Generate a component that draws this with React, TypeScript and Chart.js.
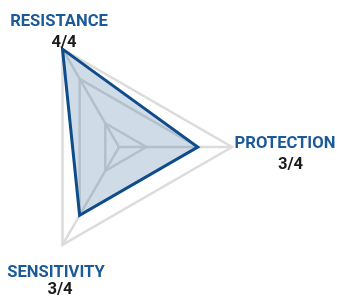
import { useEffect, useRef } from 'react';
import { Chart, registerables } from 'chart.js';

Chart.register(...registerables);

const categories = ['RESISTANCE', 'PROTECTION', 'SENSITIVITY'];
const scores = [4, 3, 3];
const maxScore = 4;
const scaleMin = 0.7;
const ringValues = [1.5, 3, 4];
const scoreLabels = scores.map((v) => `${v}/${maxScore}`);

// [nameDx, nameDy, scoreDx, scoreDy] relative to each axis end point
const LABEL_OFFSETS = [
  [-3.5, -23, 1.5, -2],
  [53, 1, 58.5, 22],
  [-6.5, 32, -2.5, 49],
];

const labelPlugin = {
  id: 'twoLineLabels',
  afterDraw(chart: any) {
    const scale = chart.scales.r;
    const ctx = chart.ctx as CanvasRenderingContext2D;
    ctx.save();
    ctx.textAlign = 'center';
    ctx.textBaseline = 'alphabetic';
    ctx.font = 'bold 16.6px Roboto';
    categories.forEach((name, i) => {
      const p = scale.getPointPosition(i, scale.drawingArea);
      const o = LABEL_OFFSETS[i];
      ctx.fillStyle = '#1b5a98';
      ctx.fillText(name, p.x + o[0], p.y + o[1]);
      ctx.fillStyle = '#1a1a1a';
      ctx.fillText(scoreLabels[i], p.x + o[2], p.y + o[3]);
    });
    ctx.restore();
  },
};

export default function App() {
  const ref = useRef<HTMLCanvasElement | null>(null);

  useEffect(() => {
    document.body.style.margin = '0';
    if (!ref.current) return;
    const chart = new Chart(ref.current, {
      type: 'radar',
      data: {
        labels: categories,
        datasets: [
          {
            data: scores,
            borderColor: '#0f4c8a',
            backgroundColor: 'rgba(16,78,139,0.2)',
            borderWidth: 3,
            pointRadius: 0,
            pointHoverRadius: 0,
            fill: true,
          },
        ],
      },
      options: {
        responsive: false,
        animation: false,
        layout: { padding: { left: 6, top: 34, right: 105, bottom: 38 } },
        plugins: { legend: { display: false }, tooltip: { enabled: false } },
        scales: {
          r: {
            min: scaleMin,
            max: maxScore,
            startAngle: -30,
            afterBuildTicks: (s: any) => {
              s.ticks = [scaleMin, ...ringValues].map((v) => ({ value: v }));
            },
            ticks: { display: false },
            pointLabels: { display: false },
            grid: { color: '#dcdcdc', lineWidth: 2.5 },
            angleLines: { color: '#dcdcdc', lineWidth: 2.5 },
          },
        },
      },
      plugins: [labelPlugin],
    });
    return () => chart.destroy();
  }, []);

  return (
    <div style={{ width: 337, height: 298 }}>
      <canvas ref={ref} width={337} height={298} />
    </div>
  );
}
